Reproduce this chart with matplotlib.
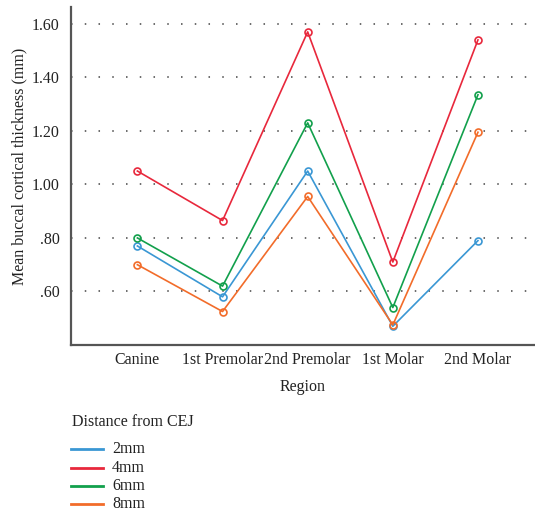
import matplotlib.pyplot as plt
import matplotlib.lines as mlines

# datos
regiones = ['Canine', '1st Premolar', '2nd Premolar', '1st Molar', '2nd Molar']
mm2 = [0.77, 0.58, 1.05, 0.47, 0.79]
mm4 = [1.05, 0.865, 1.57, 0.71, 1.54]
mm6 = [0.80, 0.62, 1.23, 0.54, 1.335]
mm8 = [0.70, 0.525, 0.955, 0.475, 1.195]
series = ['2mm', '4mm', '6mm', '8mm']
colores = ['#3a97d4', '#e8283c', '#12a04c', '#f26c2a']
y_ticks = [0.60, 0.80, 1.00, 1.20, 1.40, 1.60]
y_labels = ['.60', '.80', '1.00', '1.20', '1.40', '1.60']

plt.rcParams['font.family'] = ['Liberation Serif', 'DejaVu Serif']

fig = plt.figure(figsize=(5.35, 5.14), dpi=100)
ax = fig.add_axes([0.1327, 0.3288, 0.8673, 0.6576])

x = list(range(len(regiones)))
for valores, nombre, c in zip([mm2, mm4, mm6, mm8], series, colores):
    ax.plot(x, valores, color=c, lw=1.2, marker='o', markersize=5,
            markerfacecolor='none', markeredgewidth=1.2, label=nombre)

ax.set_xlim(-0.78, 4.67)
ax.set_ylim(0.40, 1.663)
ax.set_xticks(x)
ax.set_xticklabels(regiones, fontsize=11.5, color='#222222')
ax.set_yticks(y_ticks)
ax.set_yticklabels(y_labels, fontsize=11.5, color='#222222')
ax.tick_params(axis='y', length=0, pad=8)
ax.tick_params(axis='x', length=0, pad=5)
ax.yaxis.grid(True, color='#444444', linestyle=(0, (1, 8)), lw=1.1)
ax.set_axisbelow(True)

for s in ['top', 'right']:
    ax.spines[s].set_visible(False)
for s in ['left', 'bottom']:
    ax.spines[s].set_color('#555555')
    ax.spines[s].set_linewidth(1.6)

ax.set_xlabel('Region', fontsize=11.5, color='#222222', labelpad=8)
ax.set_ylabel('Mean buccal cortical thickness (mm)', fontsize=11.5, color='#222222')
ax.yaxis.set_label_coords(-0.094, 0.527)

# leyenda dibujada a mano
W, H = 535, 514
fig.text(72 / W, 1 - 422 / H, 'Distance from CEJ', fontsize=11.5,
         color='#222222', va='center', ha='left')
y_ent = [449, 467.5, 486, 504]
for nombre, c, yy in zip(series, colores, y_ent):
    fig.add_artist(mlines.Line2D([71 / W, 103 / W], [1 - yy / H, 1 - yy / H],
                                 color=c, lw=2, transform=fig.transFigure))
    fig.text(112 / W, 1 - yy / H, nombre, fontsize=11.5, color='#222222',
             va='center', ha='left')

fig.savefig('out.png', dpi=100)
